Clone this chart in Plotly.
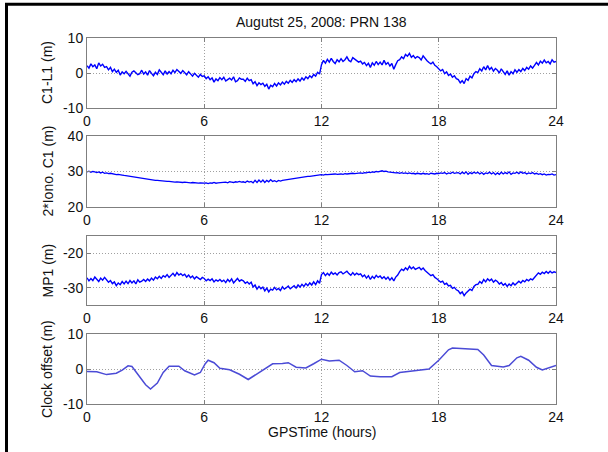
import plotly.graph_objects as go
from plotly.subplots import make_subplots

# Epoch grid: one sample every 0.1 hour over the day
hours = [i / 10 for i in range(241)]

# C1 - L1 code-minus-carrier (m)
c1_minus_l1 = [
    2.1, 1.4, 2.6, 1.8, 2.3, 1.2, 2.9, 2.0, 2.5, 1.6,
    1.8, 0.9, 1.6, 0.4, 1.1, 0.2, 0.8, -0.6, 0.3, -0.2,
    0.5, -0.4, -0.9, 0.2, 0.6, 0.1, -0.5, -0.2, 0.8, -0.3,
    0.3, -0.6, 0.7, -0.1, -0.8, 0.2, -0.4, 0.9, 0.0, -0.5,
    0.6, -0.3, 0.4, -0.2, 0.8, 0.1, 1.0, 0.3, -0.1, 0.7,
    0.2, -0.5, 0.4, -0.3, -0.9, -0.1, -0.7, -1.2, -0.4, -1.0,
    -0.8, -1.6, -1.1, -1.9, -1.4, -2.6, -1.7, -2.2, -1.3, -1.9,
    -1.2, -2.3, -1.9, -1.5, -2.0, -1.1, -2.5, -2.2, -1.4, -1.8,
    -1.8, -2.4, -1.5, -2.2, -1.9, -3.1, -2.5, -3.6, -2.8, -3.3,
    -2.9, -3.8, -3.2, -4.6, -3.5, -3.9, -3.0, -3.7, -2.8, -3.4,
    -2.6, -3.2, -2.4, -2.9, -2.1, -2.7, -1.9, -2.5, -1.7, -2.3,
    -1.4, -2.0, -1.1, -1.6, -0.8, -1.3, -0.4, -0.9, 0.2, -0.3,
    2.4, 3.6, 2.8, 3.9, 3.1, 4.2, 3.3, 2.7, 3.8, 3.2,
    4.1, 3.3, 3.8, 4.6, 3.6, 3.2, 4.4, 4.0, 3.5, 3.1,
    3.4, 2.6, 3.0, 2.1, 2.8, 1.6, 2.9, 2.2, 3.3, 2.4,
    3.1, 2.3, 3.6, 2.5, 3.0, 2.0, 2.7, 1.1, 2.4, 3.5,
    3.8, 4.6, 4.1, 5.3, 4.8, 5.6, 4.5, 5.0, 4.2, 4.7,
    4.4, 3.7, 4.9, 4.1, 3.5, 3.0, 2.6, 3.1, 2.2, 1.8,
    1.3, 0.6, 1.0, -0.2, 0.3, -0.7, -0.3, -1.2, -0.8, -1.6,
    -1.9, -2.8, -2.2, -3.0, -1.6, -2.1, -0.9, -1.4, -0.2, 0.4,
    0.1, 1.2, 0.6, 1.8, 0.9, 2.1, 1.0, 1.6, 0.5, 1.3,
    0.8, 0.0, 1.2, 0.3, -0.4, 0.6, -0.6, 0.4, -0.2, 0.9,
    0.2, 1.0, 0.4, 1.3, 0.7, 1.6, 1.1, 2.0, 1.4, 2.2,
    3.0, 2.3, 3.4, 2.8, 3.7, 2.9, 3.3, 2.6, 3.8, 3.1,
    3.3,
]

# 2 x ionospheric delay on C1 (m)
iono_c1 = [
    29.9, 30.1, 29.8, 30.0, 29.9, 29.7, 29.9, 29.6, 29.8, 29.5,
    29.6, 29.4, 29.5, 29.3, 29.3, 29.1, 29.2, 29.0, 29.0, 28.9,
    28.8, 28.7, 28.6, 28.5, 28.5, 28.3, 28.3, 28.2, 28.1, 28.0,
    27.9, 27.8, 27.8, 27.6, 27.6, 27.5, 27.5, 27.4, 27.4, 27.3,
    27.3, 27.2, 27.2, 27.1, 27.1, 27.0, 27.1, 27.0, 27.0, 26.9,
    27.0, 26.9, 26.9, 26.8, 26.9, 26.8, 26.8, 26.7, 26.8, 26.7,
    26.7, 26.8, 26.6, 26.8, 26.7, 26.9, 26.7, 26.8, 26.9, 26.8,
    26.9, 27.0, 26.8, 27.1, 27.0, 26.9, 27.1, 27.0, 27.2, 27.0,
    27.1, 26.9, 27.3, 27.0, 27.2, 26.8, 27.5, 26.9, 27.6, 27.0,
    27.6, 26.9, 27.5, 27.1, 27.7, 27.2, 27.4, 27.1, 27.5, 27.3,
    27.5, 27.6, 27.7, 27.6, 27.8, 27.9, 28.0, 28.0, 28.1, 28.2,
    28.3, 28.4, 28.5, 28.6, 28.6, 28.7, 28.8, 28.8, 28.9, 29.0,
    29.1, 29.0, 29.2, 29.1, 29.2, 29.1, 29.2, 29.3, 29.2, 29.3,
    29.3, 29.2, 29.4, 29.3, 29.4, 29.3, 29.5, 29.4, 29.5, 29.5,
    29.6, 29.5, 29.7, 29.6, 29.8, 29.7, 29.9, 29.8, 30.0, 29.9,
    30.1, 30.2, 30.0, 30.1, 29.9, 29.8, 29.7, 29.8, 29.6, 29.7,
    29.5, 29.7, 29.5, 29.6, 29.4, 29.6, 29.4, 29.5, 29.3, 29.5,
    29.4, 29.3, 29.5, 29.3, 29.4, 29.2, 29.5, 29.4, 29.3, 29.5,
    29.4, 29.6, 29.5, 29.7, 29.3, 29.6, 29.4, 29.8, 29.5, 29.6,
    29.7, 29.3, 29.8, 29.4, 29.9, 29.2, 29.7, 29.4, 29.8, 29.5,
    29.8, 29.3, 29.7, 29.2, 29.6, 29.4, 29.8, 29.3, 29.7, 29.1,
    29.6, 29.2, 29.8, 29.3, 29.7, 29.4, 29.9, 29.2, 29.6, 29.5,
    29.8, 29.4, 29.9, 29.5, 29.7, 29.3, 29.6, 29.4, 29.7, 29.3,
    29.5, 29.2, 29.4, 29.1, 29.3, 29.0, 29.2, 29.1, 29.3, 29.0,
    29.1,
]

# MP1 multipath combination (m)
mp1 = [
    -27.1, -28.0, -27.3, -27.9, -26.9, -27.6, -28.2, -27.2, -27.8, -27.0,
    -27.6, -28.4, -27.9, -28.8, -28.3, -29.4, -28.6, -29.1, -28.2, -28.9,
    -28.1, -28.8, -27.9, -28.6, -28.0, -28.9, -27.7, -28.4, -28.1, -27.6,
    -28.2, -27.5, -28.0, -27.2, -27.8, -26.9, -27.4, -26.7, -27.3, -26.5,
    -26.9, -26.2, -27.0, -26.4, -25.8, -26.6, -25.6, -26.3, -25.9, -26.5,
    -26.1, -26.9, -26.3, -27.1, -26.6, -27.4, -26.8, -27.2, -27.6, -27.0,
    -27.3, -28.0, -27.5, -27.9, -27.4, -28.3, -27.7, -28.1, -27.6, -28.2,
    -27.8, -28.5, -27.6, -28.2, -27.4, -28.6, -27.9, -27.3, -28.1, -27.7,
    -28.0, -28.7, -28.3, -28.9, -28.4, -29.8, -29.2, -30.4, -29.6, -30.3,
    -29.8, -30.9, -30.1, -31.2, -30.4, -30.7, -29.9, -30.6, -30.2, -30.8,
    -29.7, -30.4, -30.0, -29.5, -30.3, -29.8, -29.4, -30.1, -29.2, -29.8,
    -29.0, -29.6, -28.8, -29.4, -28.6, -29.2, -28.3, -29.1, -28.0, -28.7,
    -26.2, -25.6, -26.5, -25.8, -26.4, -25.5, -26.1, -25.7, -26.3, -25.6,
    -25.4, -26.0, -25.7, -25.2, -25.9, -26.4, -25.6, -26.3, -25.8, -26.2,
    -26.0, -26.8, -26.3, -27.2, -26.5, -27.6, -26.7, -27.3, -26.4, -27.0,
    -26.6, -27.3, -26.8, -27.5, -26.9, -27.8, -27.1, -28.0, -26.9, -26.3,
    -25.3, -24.6, -25.0, -24.2, -24.8, -23.8, -24.5, -24.0, -24.7, -24.3,
    -24.1, -24.8, -24.3, -25.0, -25.6, -25.9, -26.5, -26.2, -27.0, -27.4,
    -27.8, -28.4, -28.1, -29.0, -28.7, -29.5, -29.3, -30.2, -29.9, -30.6,
    -30.9, -31.7, -31.2, -32.3, -31.5, -31.0, -30.4, -30.8, -29.6, -29.1,
    -29.0, -28.2, -28.7, -27.6, -28.3, -27.4, -28.0, -27.5, -28.4, -27.8,
    -28.2, -28.9, -28.5, -29.3, -28.8, -29.6, -28.9, -29.4, -28.6, -29.2,
    -28.7, -28.1, -28.6, -27.9, -28.3, -27.6, -28.0, -27.4, -27.7, -27.1,
    -26.3, -25.7, -26.1, -25.5, -25.9, -25.3, -25.8, -25.2, -25.7, -25.4,
    -25.6,
]

# Satellite clock offset (m), smooth solution
clock_hours = [
    0.0, 0.5, 1.0, 1.5, 1.8, 2.1, 2.3, 2.6, 3.0, 3.25, 3.6, 3.9, 4.2, 4.7,
    5.0, 5.5, 5.8, 6.05, 6.2, 6.5, 6.8, 7.3, 7.8, 8.25, 8.6, 9.0, 9.5,
    10.0, 10.3, 10.7, 11.2, 11.6, 12.0, 12.4, 12.9, 13.3, 13.7, 14.1,
    14.5, 15.0, 15.6, 16.0, 16.5, 17.0, 17.5, 18.0, 18.5, 18.7, 19.3,
    20.0, 20.3, 20.7, 21.3, 21.6, 22.0, 22.2, 22.6, 23.0, 23.3, 23.6, 24.0,
]
clock_offset = [
    -0.7, -0.8, -1.6, -1.2, -0.3, 0.9, 0.7, -1.5, -4.5, -5.7, -4.0, -1.0,
    0.8, 0.8, -0.5, -1.7, -1.0, 1.5, 2.5, 1.8, 0.2, -0.2, -1.5, -3.0, -1.8,
    -0.2, 1.5, 1.6, 1.8, 0.5, 0.3, 1.5, 2.8, 2.3, 2.5, 1.0, -0.8, -0.5,
    -2.0, -2.2, -2.2, -1.0, -0.7, -0.5, 0.0, 2.5, 5.5, 6.0, 5.8, 5.6, 4.0,
    1.0, 0.6, 1.0, 3.2, 3.6, 2.5, 0.5, -0.3, 0.2, 1.0,
]

hour_ticks = [0, 6, 12, 18, 24]
panel_ranges = [[-10, 10], [20, 40], [-35, -15], [-10, 10]]
panel_ticks = [[-10, 0, 10], [20, 30, 40], [-30, -20], [-10, 0, 10]]
panel_labels = ["C1-L1 (m)", "2*Iono. C1 (m)", "MP1 (m)", "Clock offset (m)"]
title_text = "Augutst 25, 2008: PRN 138"
xlabel_text = "GPSTime (hours)"

W, H = 608, 452
FONT = "Liberation Sans, Arial, Helvetica, sans-serif"
TXT = "#111111"
BOX = "#7f7f7f"
GRID = "#a0a0a0"

# Pixel boxes of the four panels (top, bottom)
panel_px = [(38, 108), (136, 207), (236, 305), (334, 404)]
x_px = (87, 556)

fig = make_subplots(rows=4, cols=1)

series = [
    (hours, c1_minus_l1, "#0000ff", 1.4),
    (hours, iono_c1, "#0000ff", 1.3),
    (hours, mp1, "#0000ff", 1.4),
    (clock_hours, clock_offset, "#4b4bd6", 1.5),
]
for i, (xs, ys, col, lw) in enumerate(series):
    fig.add_trace(
        go.Scatter(x=xs, y=ys, mode="lines", line=dict(color=col, width=lw),
                   showlegend=False, hoverinfo="skip"),
        row=i + 1, col=1,
    )

axis_common = dict(
    showline=True, linecolor=BOX, linewidth=1, mirror="ticks",
    ticks="inside", ticklen=4, tickcolor=BOX, tickwidth=1,
    showgrid=True, gridcolor=GRID, griddash="1px,2px", gridwidth=1,
    zeroline=False, automargin=False,
    tickfont=dict(family=FONT, size=14, color=TXT),
)

for i in range(4):
    top, bot = panel_px[i]
    n = "" if i == 0 else str(i + 1)
    fig.layout["xaxis" + n].update(
        domain=[x_px[0] / W, x_px[1] / W], range=[0, 24],
        tickvals=hour_ticks, ticktext=[str(v) for v in hour_ticks],
        **axis_common,
    )
    fig.layout["yaxis" + n].update(
        domain=[1 - bot / H, 1 - top / H], range=panel_ranges[i],
        tickvals=panel_ticks[i], ticktext=[str(v) for v in panel_ticks[i]],
        **axis_common,
    )
    fig.add_annotation(
        text=panel_labels[i], textangle=-90, xref="paper", yref="paper",
        x=47 / W, y=1 - (top + bot) / 2 / H, xanchor="center", yanchor="middle",
        showarrow=False, font=dict(family=FONT, size=14, color=TXT),
    )

fig.add_annotation(
    text=title_text, xref="paper", yref="paper", x=(x_px[0] + x_px[1]) / 2 / W,
    y=1 - 22 / H, xanchor="center", yanchor="middle", showarrow=False,
    font=dict(family=FONT, size=14, color=TXT),
)
fig.add_annotation(
    text=xlabel_text, xref="paper", yref="paper", x=(x_px[0] + x_px[1]) / 2 / W,
    y=1 - 432 / H, xanchor="center", yanchor="middle", showarrow=False,
    font=dict(family=FONT, size=14, color=TXT),
)

# Black frame along the top and left edges
fig.add_shape(type="line", xref="paper", yref="paper", x0=5 / W, x1=1,
              y0=1 - 4.3 / H, y1=1 - 4.3 / H, line=dict(color="black", width=3))
fig.add_shape(type="line", xref="paper", yref="paper", x0=6.5 / W, x1=6.5 / W,
              y0=0, y1=1 - 4.3 / H, line=dict(color="black", width=3))

fig.update_layout(
    width=W, height=H, margin=dict(l=0, r=0, t=0, b=0, pad=0, autoexpand=False),
    paper_bgcolor="white", plot_bgcolor="white",
)

fig.write_html("out.html")
